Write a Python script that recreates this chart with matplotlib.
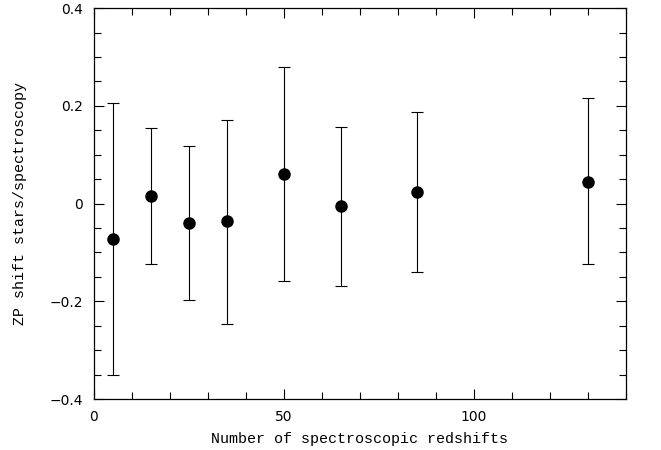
import matplotlib
matplotlib.use('Agg')
import numpy as np
import matplotlib.pyplot as plt
from matplotlib.ticker import MultipleLocator

# Data
n_spec = [5, 15, 25, 35, 50, 65, 85, 130]
zp_shift = [-0.073, 0.015, -0.040, -0.036, 0.060, -0.006, 0.024, 0.045]
err_upper = [0.205, 0.155, 0.118, 0.172, 0.280, 0.157, 0.188, 0.215]
err_lower = [-0.350, -0.124, -0.197, -0.247, -0.158, -0.168, -0.140, -0.124]

zp = np.array(zp_shift)
yerr = [zp - np.array(err_lower), np.array(err_upper) - zp]

fig = plt.figure(figsize=(6.61, 4.5), dpi=100)
ax = fig.add_axes([0.1422, 0.1133, 0.8048, 0.8687])

ax.errorbar(n_spec, zp, yerr=yerr, fmt='o', color='black', ms=8,
            elinewidth=0.8, capsize=4, capthick=0.8)

ax.set_xlim(0, 140)
ax.set_ylim(-0.4, 0.4)
ax.xaxis.set_minor_locator(MultipleLocator(10))
ax.yaxis.set_minor_locator(MultipleLocator(0.05))
ax.set_yticks([-0.4, -0.2, 0, 0.2, 0.4])
ax.set_yticklabels(['\u22120.4', '\u22120.2', '0', '0.2', '0.4'])
ax.set_xticks([0, 50, 100])
ax.set_xticklabels(['0', '50', '100'])

ax.tick_params(which='both', direction='in', top=True, right=True,
               labelsize=10, width=0.8, pad=8)
ax.tick_params(which='major', length=7)
ax.tick_params(which='minor', length=5)
for s in ax.spines.values():
    s.set_linewidth(0.9)

ax.set_xlabel('Number of spectroscopic redshifts', family='Liberation Mono',
              fontsize=10.8, labelpad=6)
ax.set_ylabel('ZP shift stars/spectroscopy', family='Liberation Mono',
              fontsize=10.8, labelpad=16)

fig.savefig('out.png', dpi=100)
